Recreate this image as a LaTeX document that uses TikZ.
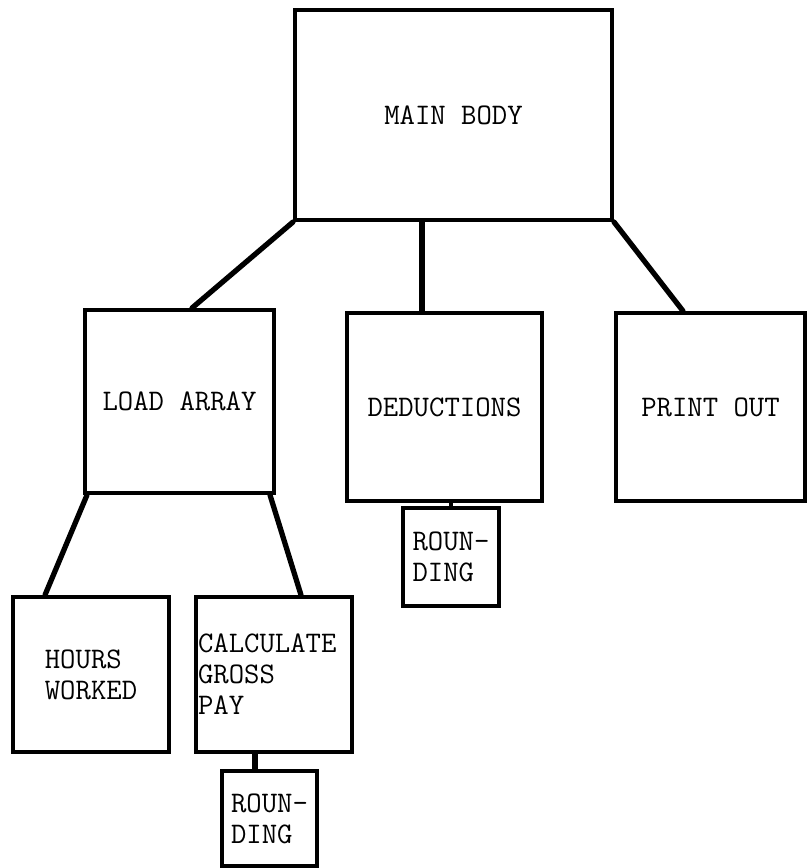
\documentclass[tikz,border=0pt]{standalone}
\usepackage{fontspec}
\usepackage{tikz}
\usetikzlibrary{calc}

\begin{document}
\begin{tikzpicture}[x=0.02cm,y=-0.02cm,
    box/.style={draw,line width=2.3pt,inner sep=0pt,align=left,
      font=\ttfamily\fontsize{17}{17.6}\selectfont},
    link/.style={line width=3pt,line cap=round}]

    \useasboundingbox (0,0) rectangle (810,868);

    \node[box,minimum width=6.34cm,minimum height=4.2cm] (main) at (453.5,115) {MAIN BODY};

    \node[box,minimum width=3.78cm,minimum height=3.66cm] (load) at (179.5,401.5) {LOAD ARRAY};
    \node[box,minimum width=3.9cm,minimum height=3.76cm] (deduct) at (444.5,407) {DEDUCTIONS};
    \node[box,minimum width=3.78cm,minimum height=3.76cm] (print) at (710.5,407) {PRINT OUT};

    \node[box,minimum width=1.92cm,minimum height=1.96cm] (round1) at (451,557) {ROUN-\\DING};

    \node[box,minimum width=3.12cm,minimum height=3.1cm] (hours) at (91,674.5) {HOURS\\WORKED};
    \node[box,minimum width=3.12cm,minimum height=3.1cm,text width=3.04cm] (calc) at (274,674.5) {CALCULATE\\GROSS\\PAY};

    \node[box,minimum width=1.9cm,minimum height=1.9cm] (round2) at (269.5,818.5) {ROUN-\\DING};

    % links from the main body
    \draw[link] (main.south west) -- ($(load.north)+(12.5,0)$);
    \draw[link] ($(main.south)+(-31.5,0)$) coordinate (m) -- (m |- deduct.north);
    \draw[link] (main.south east) -- ($(print.north)+(-27.5,0)$);

    % links below
    \draw[link] ($(load.south west)+(4,0)$) -- ($(hours.north)+(-46,0)$);
    \draw[link] ($(load.south east)+(-6,0)$) -- ($(calc.north)+(27,0)$);
    \draw[link] ($(calc.south)+(-19,0)$) coordinate (c) -- (c |- round2.north);
    \draw[line width=1.8pt] (round1.north) -- (round1.north |- deduct.south);
\end{tikzpicture}
\end{document}
